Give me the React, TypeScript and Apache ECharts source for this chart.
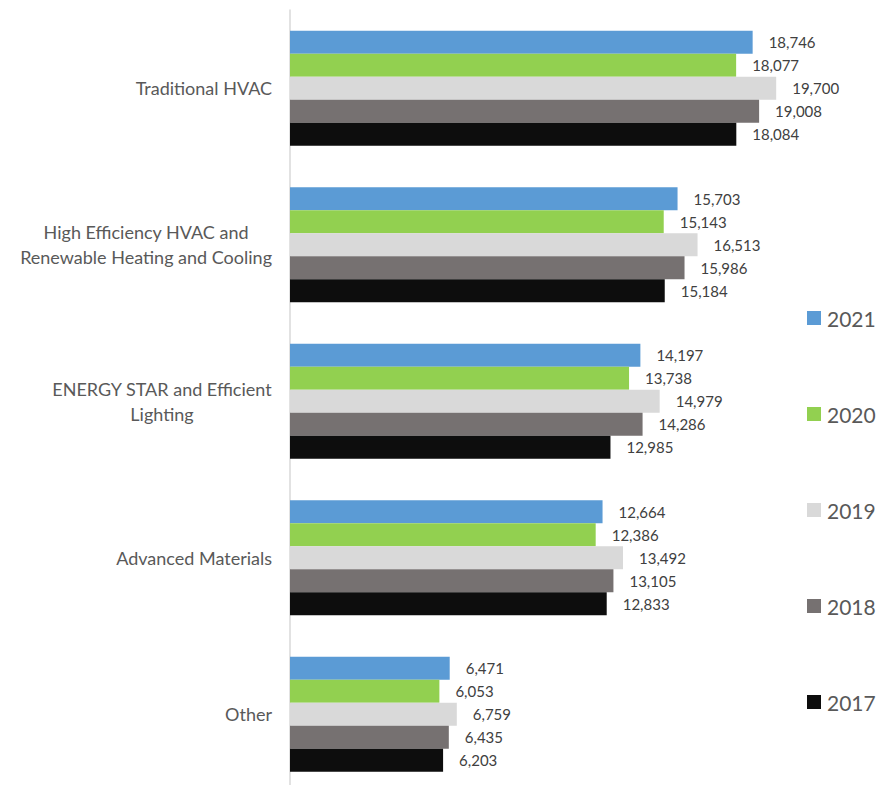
import React, { useEffect, useRef } from "react";
import * as echarts from "echarts";

const categories = [
  "Traditional HVAC",
  "High Efficiency HVAC and\nRenewable Heating and Cooling",
  "ENERGY STAR and Efficient\nLighting",
  "Advanced Materials",
  "Other",
];
const seriesNames = ["2021", "2020", "2019", "2018", "2017"];
const values2021 = [18746, 15703, 14197, 12664, 6471];
const values2020 = [18077, 15143, 13738, 12386, 6053];
const values2019 = [19700, 16513, 14979, 13492, 6759];
const values2018 = [19008, 15986, 14286, 13105, 6435];
const values2017 = [18084, 15184, 12985, 12833, 6203];
const seriesValues = [values2021, values2020, values2019, values2018, values2017];
const colors = ["#5B9BD5", "#92D050", "#D9D9D9", "#767171", "#0D0D0D"];

const FONT = "Lato, 'Open Sans', sans-serif";

export default function App() {
  const ref = useRef<HTMLDivElement>(null);
  useEffect(() => {
    if (!ref.current) return;
    const chart = echarts.init(ref.current, undefined, { renderer: "svg" });
    chart.setOption({
      animation: false,
      textStyle: { fontFamily: FONT },
      legend: {
        orient: "vertical",
        left: 807,
        top: 307,
        padding: 0,
        itemWidth: 14,
        itemHeight: 14,
        itemGap: 74,
        icon: "rect",
        data: seriesNames,
        textStyle: { fontSize: 21, lineHeight: 22, color: "#595959", fontFamily: FONT, padding: [0, 0, 0, 1] },
      },
      grid: {
        left: 290,
        top: 10,
        width: 493.6,
        height: 782.4,
        containLabel: false,
        outerBoundsMode: "none",
      },
      xAxis: { type: "value", min: 0, max: 20000, show: false },
      yAxis: {
        type: "category",
        inverse: true,
        data: categories,
        axisTick: { show: false },
        axisLine: { show: true, lineStyle: { color: "#D9D9D9", width: 1.5 } },
        axisLabel: {
          margin: 18,
          align: "right",
          formatter: (v: string) =>
            v
              .split("\n")
              .map((l) => "{c|" + l + "}")
              .join("\n"),
          rich: {
            c: { align: "center", fontSize: 18, lineHeight: 25, color: "#595959", fontFamily: FONT },
          },
        },
      },
      series: seriesNames.map((name, i) => ({
        name,
        type: "bar",
        data: seriesValues[i],
        barWidth: 23,
        barGap: "0%",
        itemStyle: { color: colors[i] },
        label: {
          show: true,
          position: "right",
          distance: 16,
          fontSize: 15,
          color: "#404040",
          fontFamily: FONT,
          formatter: (p: any) => Number(p.value).toLocaleString("en-US"),
        },
      })),
    });
    return () => chart.dispose();
  }, []);
  return (
    <div
      ref={ref}
      style={{ position: "fixed", left: 0, top: 0, width: 879, height: 785, background: "#fff" }}
    />
  );
}
